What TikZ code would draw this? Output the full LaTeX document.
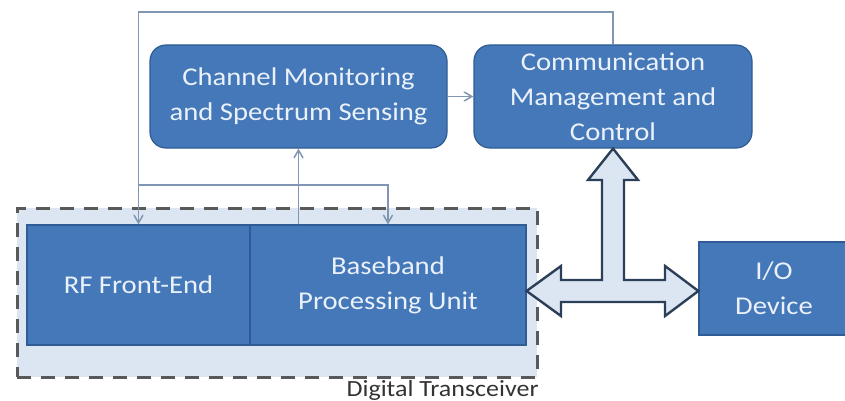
\documentclass[tikz,border=0pt]{standalone}
\usepackage{fontspec}
\setmainfont{Carlito}[FakeStretch=1.12]
\usetikzlibrary{calc}
\usetikzlibrary{arrows}
\definecolor{boxblue}{HTML}{4578B8}
\definecolor{boxedge}{HTML}{2F5C94}
\definecolor{boxtext}{HTML}{EAF1FA}
\definecolor{linegray}{HTML}{8096B2}
\definecolor{paleblue}{HTML}{DCE6F2}
\definecolor{darkedge}{HTML}{2B3F58}
\begin{document}
\begin{tikzpicture} [x=0.5pt,y=-0.5pt,
 block/.style={draw=boxedge, line width=0.6pt, fill=boxblue, text=boxtext, align=center, inner sep=0,
   font=\fontsize{12.8}{17.5}\selectfont},
 conn/.style={draw=linegray, line width=0.75pt, ->, >=angle 60}]
\useasboundingbox (0,0) rectangle (845,401);
\begin{scope}
\clip (0,0) rectangle (845,401);
\node[draw=black!65, dash pattern=on 7pt off 5pt, line width=1.5pt, fill=paleblue, minimum width=260pt, minimum height=84.5pt] (dt) at (277,292.5) {};
\node[block, minimum width=111.5pt, minimum height=60pt] (rf) at (138.5,285) {RF Front-End};
\node[block, minimum width=138pt, minimum height=60pt] (bbu) at (388,285) {Baseband\\Processing Unit};
\node[block, rounded corners=8pt, minimum width=148.5pt, minimum height=51.5pt] (cmss) at (298.5,96.5) {Channel Monitoring\\and Spectrum Sensing};
\node[block, rounded corners=8pt, minimum width=139pt, minimum height=51.5pt] (cmc) at (613,96.5) {Communication\\Management and\\Control};
\node[block, minimum width=75pt, minimum height=46.5pt] (io) at (774,288.5) {I/O\\Device};
\node[anchor=base east, inner sep=0, text=black!80, font=\fontsize{11.6}{14}\selectfont] (dtlabel) at (539,396.5) {Digital Transceiver};
\coordinate (top) at (139,12);
\coordinate (branch) at (139,185);
\draw[conn] (cmc.north) |- (rf.north |- top) -- (rf.north);
\draw[conn] (rf.north |- branch) -| (bbu.north);
\draw[conn] (bbu.north -| cmss.south) -- (cmss.south);
\draw[conn] (cmss.east) -- (cmc.west);
\draw[darkedge, line width=1.2pt, fill=paleblue, line join=miter]
 (bbu.east |- 0,291) -- (561,266) -- (561,280) -- (602,280) -- (602,180) -- (588,180)
 -- (cmc.south) -- (638,180) -- (624,180) -- (624,280) -- (665,280) -- (665,266)
 -- (io.west |- 0,291) -- (665,316) -- (665,302) -- (561,302) -- (561,316) -- cycle;
\end{scope}
\end{tikzpicture}
\end{document}
